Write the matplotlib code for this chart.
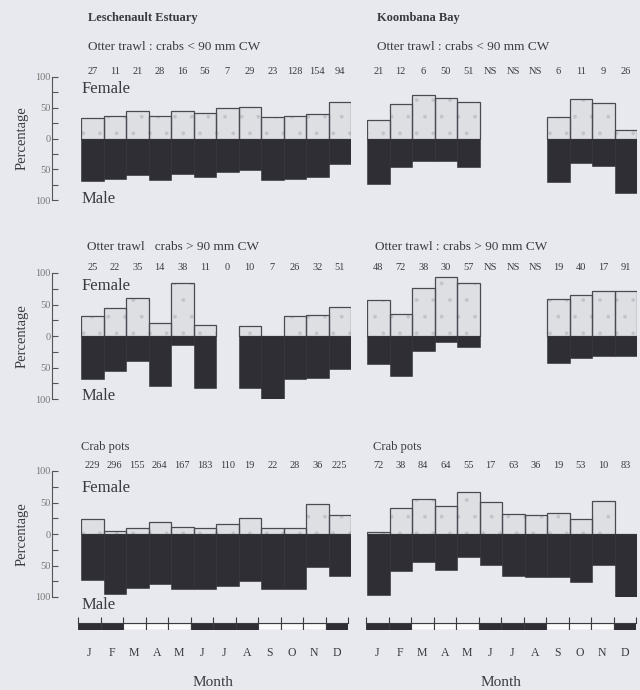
import numpy as np
import matplotlib
matplotlib.use("Agg")
import matplotlib.pyplot as plt

nan = np.nan

# month letters and seasons (summer / autumn / winter / spring)
months = ["J", "F", "M", "A", "M", "J", "J", "A", "S", "O", "N", "D"]
seasons = ["su", "su", "au", "au", "au", "wi", "wi", "wi", "sp", "sp", "sp", "su"]

# Leschenault Estuary, otter trawl, crabs < 90 mm CW
le_small_n = ["27", "11", "21", "28", "16", "56", "7", "29", "23", "128", "154", "94"]
le_small_female = [33, 37, 44, 36, 44, 41, 50, 52, 35, 36, 40, 60]
le_small_male = [69, 66, 60, 67, 57, 62, 54, 52, 67, 66, 62, 41]

# Koombana Bay, otter trawl, crabs < 90 mm CW
kb_small_n = ["21", "12", "6", "50", "51", "NS", "NS", "NS", "6", "11", "9", "26"]
kb_small_female = [30, 56, 70, 66, 59, nan, nan, nan, 35, 65, 57, 14]
kb_small_male = [74, 46, 37, 37, 46, nan, nan, nan, 71, 40, 45, 89]

# Leschenault Estuary, otter trawl, crabs > 90 mm CW
le_large_n = ["25", "22", "35", "14", "38", "11", "0", "10", "7", "26", "32", "51"]
le_large_female = [31, 44, 60, 21, 84, 17, nan, 16, 0, 31, 34, 46]
le_large_male = [68, 55, 40, 79, 15, 83, nan, 83, 100, 69, 67, 52]

# Koombana Bay, otter trawl, crabs > 90 mm CW
kb_large_n = ["48", "72", "38", "30", "57", "NS", "NS", "NS", "19", "40", "17", "91"]
kb_large_female = [57, 35, 76, 94, 84, nan, nan, nan, 59, 65, 71, 71]
kb_large_male = [44, 64, 24, 9, 17, nan, nan, nan, 43, 35, 32, 32]

# Crab pots
le_pots_n = ["229", "296", "155", "264", "167", "183", "110", "19", "22", "28", "36", "225"]
le_pots_female = [24, 4, 10, 19, 11, 10, 16, 25, 10, 10, 47, 30]
le_pots_male = [73, 95, 86, 79, 87, 88, 82, 75, 88, 87, 53, 66]

kb_pots_n = ["72", "38", "84", "64", "55", "17", "63", "36", "19", "53", "10", "83"]
kb_pots_female = [3, 42, 56, 44, 66, 51, 31, 30, 33, 24, 53, 0]
kb_pots_male = [97, 59, 45, 57, 37, 49, 67, 69, 69, 76, 49, 100]

W, H = 640, 690
BG = "#e8e9ee"
TXT = "#3a3a3f"
plt.rcParams["font.family"] = ["Liberation Serif", "DejaVu Serif"]
plt.rcParams["hatch.linewidth"] = 0.3

fig = plt.figure(figsize=(W / 100, H / 100), dpi=100, facecolor=BG)


def px_axes(x0, y0, x1, y1):
    return fig.add_axes([x0 / W, 1 - y1 / H, (x1 - x0) / W, (y1 - y0) / H])


def ftext(x, y, s, **kw):
    kw.setdefault("color", TXT)
    fig.text(x / W, 1 - y / H, s, **kw)


def draw_panel(ax, female, male, counts, with_axis):
    idx = np.arange(12)
    fem = np.array(female, dtype=float)
    mal = np.array(male, dtype=float)
    ax.set_facecolor(BG)
    # dotted female bars: light fill with faint stipple, then the outline
    ax.bar(idx, fem, width=1, align="edge", color="#dedfe3",
           edgecolor="#c3c4ca", hatch=".", linewidth=0)
    ax.bar(idx, fem, width=1, align="edge", fill=False,
           edgecolor="#4a4a52", linewidth=0.9)
    ax.bar(idx, -mal, width=1, align="edge", color="#2e2e34",
           edgecolor="#2e2e34", linewidth=0.4)
    for i, c in enumerate(counts):
        ax.text(i + 0.5, 109, c, ha="center", va="center", fontsize=7.5,
                color=TXT, clip_on=False)
    ax.set_xlim(0, 12)
    ax.set_ylim(-100, 100)
    for s in ["top", "right", "bottom"]:
        ax.spines[s].set_visible(False)
    ax.set_xticks([])
    if with_axis:
        ax.spines["left"].set_position(("outward", 21))
        ax.spines["left"].set_color("#555")
        ax.set_yticks([-100, -50, 0, 50, 100])
        ax.set_yticklabels(["100", "50", "0", "50", "100"])
        ax.set_yticks([-75, -25, 25, 75], minor=True)
        ax.tick_params(axis="y", which="both", direction="in", length=4,
                       width=0.8, color="#555", labelsize=7.5, labelcolor="#777", pad=1)
    else:
        ax.spines["left"].set_visible(False)
        ax.set_yticks([])


rows = [(77, 200), (273, 399), (471, 597)]
left_x = (81, 351)
right_x = (367, 637)

panels = [
    (le_small_female, le_small_male, le_small_n, kb_small_female, kb_small_male, kb_small_n),
    (le_large_female, le_large_male, le_large_n, kb_large_female, kb_large_male, kb_large_n),
    (le_pots_female, le_pots_male, le_pots_n, kb_pots_female, kb_pots_male, kb_pots_n),
]

for (top, bot), p in zip(rows, panels):
    axl = px_axes(left_x[0], top, left_x[1], bot)
    draw_panel(axl, p[0], p[1], p[2], True)
    axr = px_axes(right_x[0], top, right_x[1], bot)
    draw_panel(axr, p[3], p[4], p[5], False)
    mid = (top + bot) / 2
    ftext(22, mid, "Percentage", rotation=90, ha="center", va="center", fontsize=10.5)

# headings
ftext(88, 18, "Leschenault Estuary", fontsize=9, fontweight="bold", va="center")
ftext(377, 18, "Koombana Bay", fontsize=9, fontweight="bold", va="center")
ftext(88, 47, "Otter trawl : crabs < 90 mm CW", fontsize=9.5, va="center")
ftext(377, 47, "Otter trawl : crabs < 90 mm CW", fontsize=9.5, va="center")
ftext(87, 247, "Otter trawl   crabs > 90 mm CW", fontsize=9.5, va="center")
ftext(375, 247, "Otter trawl : crabs > 90 mm CW", fontsize=9.5, va="center")
ftext(81, 447, "Crab pots", fontsize=9, va="center")
ftext(373, 447, "Crab pots", fontsize=9, va="center")

# Female / Male labels
for yf, ym in [(89, 199), (286, 396), (488, 605)]:
    ftext(82, yf, "Female", fontsize=12, va="center")
    ftext(82, ym, "Male", fontsize=12, va="center")

# season strips and month axis
season_color = {"su": "#2e2e34", "wi": "#2e2e34", "au": "#fbfbfc", "sp": "#fbfbfc"}
for x0, x1 in [(78, 348), (366, 636)]:
    sax = px_axes(x0, 623, x1, 630)
    sax.set_facecolor(BG)
    sax.bar(np.arange(12), 1, width=1, align="edge",
            color=[season_color[s] for s in seasons],
            edgecolor="#3a3a40", linewidth=0.8)
    sax.set_xlim(0, 12)
    sax.set_ylim(0, 1)
    for s in ["left", "right", "bottom"]:
        sax.spines[s].set_visible(False)
    sax.spines["top"].set_color("#3a3a40")
    sax.xaxis.set_ticks_position("top")
    sax.set_xticks(np.arange(13))
    sax.set_xticklabels([])
    sax.set_yticks([])
    sax.tick_params(axis="x", direction="out", length=4, width=0.8, color="#3a3a40")
    step = (x1 - x0) / 12
    for i, m in enumerate(months):
        ftext(x0 + step * (i + 0.5), 653, m, ha="center", va="center", fontsize=8.5)
    ftext((x0 + x1) / 2, 682, "Month", ha="center", va="center", fontsize=11)

fig.savefig("out.png", dpi=100, facecolor=BG)
